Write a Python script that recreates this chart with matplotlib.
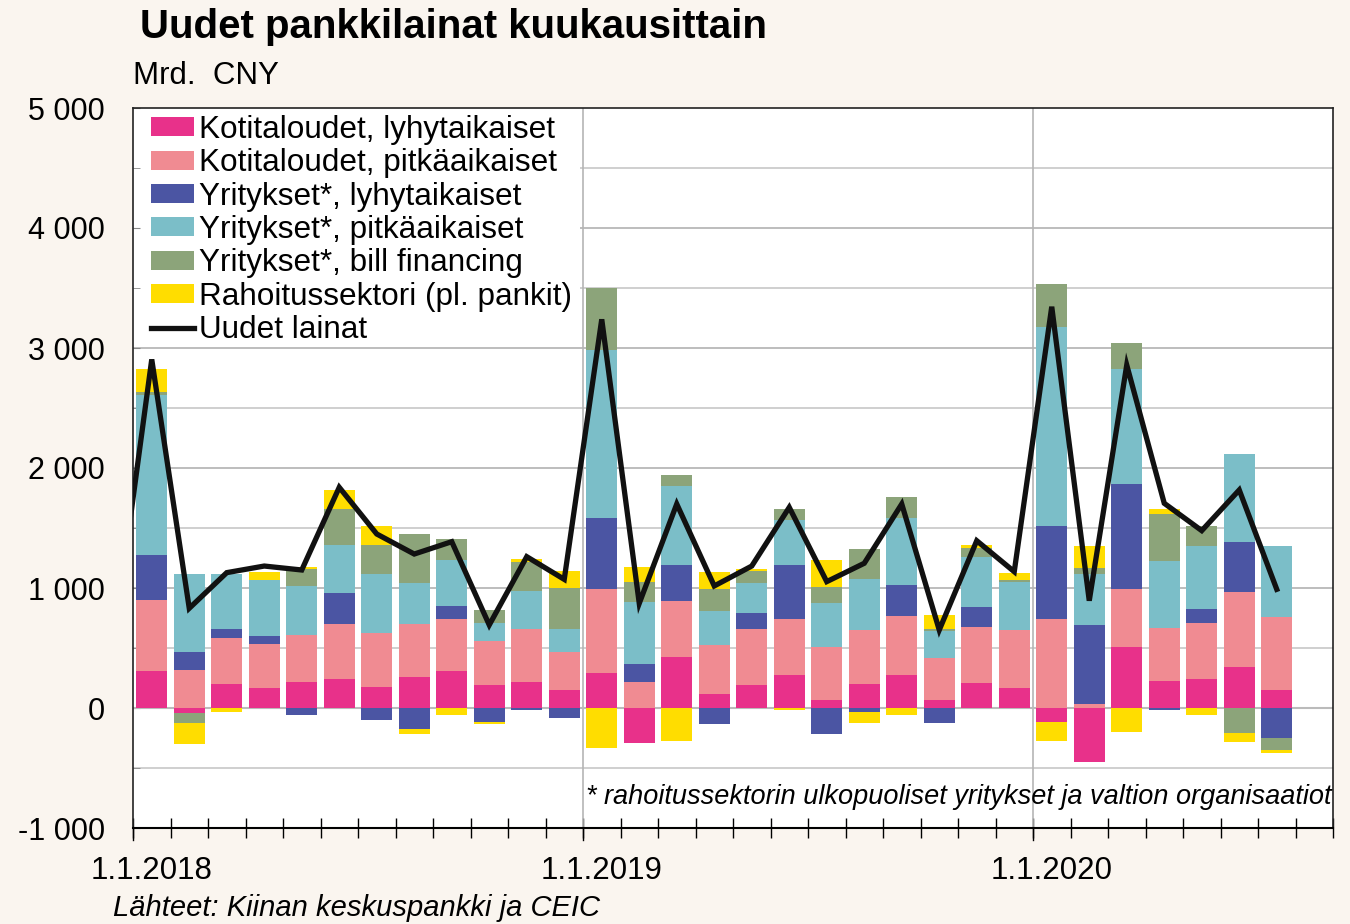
import matplotlib
matplotlib.use("Agg")
import matplotlib.pyplot as plt
import numpy as np
from matplotlib.patches import Patch, Rectangle
from matplotlib.lines import Line2D
import matplotlib.transforms as mtransforms

months = ["2018-01","2018-02","2018-03","2018-04","2018-05","2018-06","2018-07","2018-08",
          "2018-09","2018-10","2018-11","2018-12","2019-01","2019-02","2019-03","2019-04",
          "2019-05","2019-06","2019-07","2019-08","2019-09","2019-10","2019-11","2019-12",
          "2020-01","2020-02","2020-03","2020-04","2020-05","2020-06","2020-07"]

hh_short = [308,-44,200,169,217,239,172,261,308,192,217,150,289,-294,428,114,192,272,64,200,272,64,211,164,-114,-450,511,228,239,339,150]
hh_long = [594,317,381,362,391,458,456,436,436,369,441,314,703,219,464,408,466,472,447,450,495,355,467,486,744,33,481,441,467,630,606]
corp_short = [370,147,77,69,-61,264,-100,-178,109,-117,-14,-83,594,148,302,-136,131,450,-217,-33,255,-122,166,0,773,656,875,-14,116,412,-250]
corp_long = [1336,653,459,467,411,400,489,342,380,150,320,194,1397,519,656,286,250,373,361,425,564,225,417,403,1661,425,958,556,528,733,594]
bill_fin = [28,-78,0,0,137,295,241,408,175,106,236,339,514,161,94,184,105,94,139,247,175,14,75,14,355,55,214,389,167,-211,-97]
fin_sector = [186,-181,-33,64,19,161,159,-39,-61,-19,25,147,-336,128,-275,144,12,-14,222,-95,-61,117,22,55,-161,181,-197,42,-61,-75,-25]

# total new loans, including Dec 2017 (clipped at the left edge)
line_months = ["2017-12"] + months
new_loans = [584,2905,831,1128,1183,1150,1839,1450,1283,1386,692,1261,1072,3239,872,1700,1017,1183,1672,1053,1206,1700,650,1394,1136,3344,894,2858,1706,1478,1817,989]

series = [
    ("Kotitaloudet, lyhytaikaiset", hh_short, "#E8318A"),
    ("Kotitaloudet, pitkäaikaiset", hh_long, "#F08B92"),
    ("Yritykset*, lyhytaikaiset", corp_short, "#4B55A3"),
    ("Yritykset*, pitkäaikaiset", corp_long, "#7BBEC8"),
    ("Yritykset*, bill financing", bill_fin, "#8CA47A"),
    ("Rahoitussektori (pl. pankit)", fin_sector, "#FFDD00"),
]
year_labels = ["1.1.2018", "1.1.2019", "1.1.2020"]

arial = ["Liberation Sans", "DejaVu Sans"]
plt.rcParams["font.family"] = arial

bg = "#FAF5EF"
fig = plt.figure(figsize=(13.5, 9.24), dpi=100, facecolor=bg)
ax = fig.add_axes([133/1350, 1-828/924, 1200/1350, 720/924])
ax.set_facecolor("white")

n = len(months)
x = np.arange(n) + 0.5
pos_bottom = np.zeros(n)
neg_bottom = np.zeros(n)
for label, vals, col in series:
    v = np.array(vals, dtype=float)
    pos = np.where(v > 0, v, 0)
    neg = np.where(v < 0, v, 0)
    ax.bar(x, pos, bottom=pos_bottom, width=0.83, color=col, linewidth=0, zorder=3)
    ax.bar(x, neg, bottom=neg_bottom, width=0.83, color=col, linewidth=0, zorder=3)
    pos_bottom += pos
    neg_bottom += neg

xl = np.arange(len(line_months)) - 0.5
ax.plot(xl, new_loans, color="#111111", lw=3.8, zorder=4, solid_joinstyle="miter", clip_on=True)

ax.set_xlim(0, 32)
ax.set_ylim(-1000, 5000)

# y grid
for yv in range(-500, 5000, 500):
    if yv == 0:
        ax.axhline(0, color="#BBBBBB", lw=1.5, zorder=2)
    else:
        ax.axhline(yv, color="#CCCCCC" if yv % 1000 else "#B8B8B8", lw=1.3, zorder=1)
# white legend background covering the grid in the upper-left corner
ax.add_patch(Rectangle((0, 3012), 11.93, 2000, facecolor="white", edgecolor="none", zorder=1.5))
for xv in [12, 24]:
    ax.axvline(xv, color="#B5B5B5", lw=1.2, zorder=1.6)

ax.set_yticks(range(-1000, 5001, 1000))
ax.set_yticklabels([f"{v:,}".replace(",", " ") if v >= 0 else "-" + f"{-v:,}".replace(",", " ") for v in range(-1000, 5001, 1000)],
                   fontsize=22)
ax.set_yticks(range(-1000, 5001, 500), minor=True)
ax.tick_params(axis="y", which="both", direction="in", length=5, color="#888888", pad=20)

# month boundary ticks (minor), labels centred on January bars (major, no tick mark)
ax.set_xticks(np.arange(0, 33, 1), minor=True)
ax.set_xticks([0.5, 12.5, 24.5])
ax.set_xticklabels(year_labels, fontsize=22.5)
ax.tick_params(axis="x", which="minor", direction="inout", length=14, width=1, color="black")
ax.tick_params(axis="x", which="major", length=0, pad=20)
trans = mtransforms.blended_transform_factory(ax.transData, ax.transAxes)
for xv in [0, 12, 24]:
    ax.plot([xv, xv], [-0.017, 0], transform=trans, color="black", lw=1, clip_on=False, zorder=6)

for s in ["left", "right", "top"]:
    ax.spines[s].set_color("#222222")
    ax.spines[s].set_linewidth(1.2)
ax.spines["bottom"].set_color("black")
ax.spines["bottom"].set_linewidth(1.5)

handles = [Patch(facecolor=c, edgecolor="none", label=l) for l, _, c in series]
handles.append(Line2D([0], [0], color="#111111", lw=3.8, label="Uudet lainat"))
leg = ax.legend(handles=handles, loc="upper left", bbox_to_anchor=(18/1200, 1 - 7/720), borderaxespad=0,
                prop={"size": 22.7}, frameon=False, handlelength=1.37, handleheight=0.55,
                handletextpad=0.16, labelspacing=0.105, borderpad=0)
leg.set_zorder(5)

ax.text(0.9985, 0.0435, "* rahoitussektorin ulkopuoliset yritykset ja valtion organisaatiot",
        transform=ax.transAxes, ha="right", va="center", fontsize=19.5, fontstyle="italic",
        zorder=6)

fig.text(140/1350, 1-27/924, "Uudet pankkilainat kuukausittain", ha="left", va="center",
         fontsize=29, fontweight="bold")
fig.text(133/1350, 1-76/924, "Mrd.  CNY", ha="left", va="center", fontsize=22.5)
fig.text(113/1350, 1-908/924, "Lähteet: Kiinan keskuspankki ja CEIC", ha="left", va="center",
         fontsize=21, fontstyle="italic")

fig.savefig("out.png", dpi=100, facecolor=bg)
